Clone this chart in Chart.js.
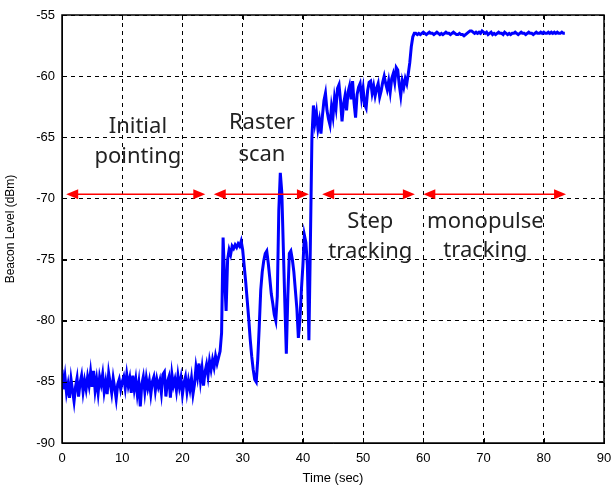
<!DOCTYPE html>
<html>
<head>
<meta charset="utf-8">
<title>Beacon level vs time</title>
<script src="https://cdn.jsdelivr.net/npm/chart.js@4.4.1/dist/chart.umd.min.js"></script>
<style>
  html, body { margin: 0; padding: 0; background: #fff; }
  #wrap { width: 612px; height: 490px; }
</style>
</head>
<body>
<div id="wrap"><canvas id="beaconChart"></canvas></div>
<script>
// beacon level samples (dBm), one every 0.25 s
const sampleStep = 0.25;

// 0 - 25.75 s
const initialPointing = [
    -84.0, -85.6, -84.6, -85.9,
    -85.2, -86.3, -84.8, -85.7,
    -86.6, -85.4, -84.7, -86.2,
    -85.1, -84.5, -85.8, -84.9,
    -85.6, -84.6, -85.3, -84.2,
    -85.4, -84.1, -85.7, -84.8,
    -85.9, -84.6, -85.2, -84.4,
    -85.8, -85.0, -86.0, -84.3,
    -85.1, -85.9, -84.7, -85.5,
    -86.4, -85.2, -84.8, -85.6,
    -85.0, -84.6, -85.5, -84.4,
    -85.3, -84.7, -85.9, -84.5,
    -85.6, -84.8, -86.0, -85.1,
    -87.0, -85.2, -84.6, -85.8,
    -84.7, -85.5, -84.9, -86.0,
    -85.0, -84.6, -85.7, -84.8,
    -85.4, -84.9, -85.9, -84.4,
    -84.2, -86.2, -85.0, -84.6,
    -86.3, -84.4, -85.3, -84.8,
    -85.7, -84.5, -85.4, -84.7,
    -86.0, -85.1, -84.6, -85.8,
    -84.9, -85.6, -84.7, -86.0,
    -85.2, -83.8, -84.6, -83.5,
    -84.9, -83.9, -85.3, -84.2,
    -83.6, -84.5, -83.3, -84.0,
    -83.2, -83.8, -82.9, -83.5
];

// 26 - 41.5 s
const rasterScan = [
    -83.0, -82.5, -81.0, -73.2,
    -76.5, -79.2, -75.0, -74.2,
    -74.6, -73.9, -74.1, -73.8,
    -74.0, -73.7, -73.9, -73.5,
    -74.2, -75.5, -76.8, -78.3,
    -79.8, -81.5, -82.9, -84.0,
    -84.8, -85.0, -83.2, -80.5,
    -77.5, -76.0, -75.1, -74.5,
    -74.3, -75.3, -76.5, -77.8,
    -78.6, -79.5, -80.0, -78.0,
    -71.0, -67.9, -69.5, -74.0,
    -78.5, -82.7, -78.0, -74.5,
    -74.3, -75.0, -76.0, -77.5,
    -79.0, -81.4, -80.0, -77.5,
    -75.5, -73.0, -73.6, -75.5,
    -81.6, -73.5, -65.0
];

// 41.75 - 58.5 s
const stepTracking = [
    -62.4,
    -63.8, -63.0, -64.3, -63.6,
    -64.7, -63.2, -62.0, -61.4,
    -62.8, -63.5, -64.0, -62.5,
    -63.3, -61.8, -62.6, -61.0,
    -60.7, -62.0, -63.7, -62.3,
    -61.6, -62.8, -61.3, -60.8,
    -61.9, -60.4, -62.2, -63.4,
    -61.5, -60.9, -60.6, -61.8,
    -61.0, -62.3, -62.6, -61.2,
    -60.5, -60.4, -61.4, -60.8,
    -61.6, -61.0, -60.6, -61.7,
    -61.2, -60.5, -60.0, -60.6,
    -61.1, -60.4, -61.3, -60.2,
    -59.8, -60.5, -59.3, -59.5,
    -60.7, -61.6, -60.4, -60.9,
    -60.2, -60.6, -59.8, -58.9,
    -57.6, -56.8, -56.5
];

// 58.75 - 83.5 s
const monopulseTracking = [
    -56.5,
    -56.6, -56.5, -56.6, -56.5,
    -56.4, -56.5, -56.6, -56.5,
    -56.4, -56.5, -56.5, -56.6,
    -56.5, -56.4, -56.5, -56.6,
    -56.5, -56.6, -56.5, -56.4,
    -56.5, -56.5, -56.6, -56.5,
    -56.4, -56.5, -56.6, -56.6,
    -56.5, -56.6, -56.6, -56.7,
    -56.6, -56.5, -56.4, -56.3,
    -56.3, -56.4, -56.5, -56.4,
    -56.5, -56.4, -56.5, -56.3,
    -56.4, -56.5, -56.4, -56.6,
    -56.5, -56.4, -56.6, -56.5,
    -56.6, -56.5, -56.4, -56.5,
    -56.5, -56.6, -56.4, -56.5,
    -56.6, -56.5, -56.6, -56.5,
    -56.5, -56.4, -56.5, -56.6,
    -56.5, -56.4, -56.5, -56.5,
    -56.6, -56.5, -56.4, -56.5,
    -56.5, -56.6, -56.5, -56.4,
    -56.5, -56.5, -56.4, -56.5,
    -56.4, -56.5, -56.5, -56.4,
    -56.5, -56.4, -56.5, -56.4,
    -56.5, -56.4, -56.5, -56.5,
    -56.4, -56.5, -56.5
];

const xTicks = [0, 10, 20, 30, 40, 50, 60, 70, 80, 90];
const yTicks = [-90, -85, -80, -75, -70, -65, -60, -55];

// phase annotations (time spans in sec, level in dBm)
const phaseSpans = [[0.7, 23.8], [25.2, 41.0], [43.2, 58.6], [60.0, 83.7]];
const phaseArrowLevel = -69.65;
const phaseNames = [
    ['Initial', 'pointing'],
    ['Raster', 'scan'],
    ['Step', 'tracking'],
    ['monopulse', 'tracking']
];
const phaseTextAt = [
    { x: 12.6, y: [-64.1, -66.6] },
    { x: 33.2, y: [-63.8, -66.4] },
    { x: 51.2, y: [-71.9, -74.4] },
    { x: 70.3, y: [-71.9, -74.3] }
];

const allLevels = initialPointing.concat(rasterScan, stepTracking, monopulseTracking);
const points = allLevels.map((v, i) => ({ x: i * sampleStep, y: v }));

// solid box + inward ticks like matlab
const framePlugin = {
    id: 'frame',
    afterDatasetsDraw(chart) {
        const ctx = chart.ctx;
        const a = chart.chartArea;
        const sx = chart.scales.x, sy = chart.scales.y;
        ctx.save();
        ctx.strokeStyle = '#000';
        ctx.lineWidth = 1;
        ctx.beginPath();
        xTicks.forEach(t => {
            const px = Math.round(sx.getPixelForValue(t)) + 0.5;
            ctx.moveTo(px, a.bottom); ctx.lineTo(px, a.bottom - 5);
            ctx.moveTo(px, a.top); ctx.lineTo(px, a.top + 5);
        });
        yTicks.forEach(t => {
            const py = Math.round(sy.getPixelForValue(t)) + 0.5;
            ctx.moveTo(a.left, py); ctx.lineTo(a.left + 5, py);
            ctx.moveTo(a.right, py); ctx.lineTo(a.right - 5, py);
        });
        ctx.stroke();
        ctx.lineWidth = 1.5;
        ctx.strokeRect(a.left, a.top, a.right - a.left, a.bottom - a.top);
        ctx.restore();
    }
};

function drawArrowHead(ctx, tipX, y, dir) {
    ctx.beginPath();
    ctx.moveTo(tipX, y);
    ctx.lineTo(tipX - dir * 12, y - 5);
    ctx.lineTo(tipX - dir * 12, y + 5);
    ctx.closePath();
    ctx.fill();
}

const phasePlugin = {
    id: 'phases',
    afterDatasetsDraw(chart) {
        const ctx = chart.ctx;
        const sx = chart.scales.x, sy = chart.scales.y;
        ctx.save();
        ctx.strokeStyle = '#ff0000';
        ctx.fillStyle = '#ff0000';
        ctx.lineWidth = 1.5;
        const ay = sy.getPixelForValue(phaseArrowLevel);
        phaseSpans.forEach(span => {
            const x1 = sx.getPixelForValue(span[0]);
            const x2 = sx.getPixelForValue(span[1]);
            ctx.beginPath();
            ctx.moveTo(x1 + 6, ay);
            ctx.lineTo(x2 - 6, ay);
            ctx.stroke();
            drawArrowHead(ctx, x1, ay, -1);
            drawArrowHead(ctx, x2, ay, 1);
        });

        ctx.fillStyle = '#222';
        ctx.font = '22px "Noto Sans", sans-serif';
        ctx.textAlign = 'center';
        ctx.textBaseline = 'middle';
        phaseNames.forEach((lines, i) => {
            const pos = phaseTextAt[i];
            lines.forEach((txt, j) => {
                ctx.fillText(txt, sx.getPixelForValue(pos.x), sy.getPixelForValue(pos.y[j]));
            });
        });
        ctx.restore();
    }
};

const ctx = document.getElementById('beaconChart');
new Chart(ctx, {
    type: 'line',
    data: {
        datasets: [{
            label: 'Beacon level',
            data: points,
            borderColor: '#0000ff',
            borderWidth: 3,
            pointRadius: 0,
            tension: 0,
            fill: false
        }]
    },
    options: {
        responsive: true,
        maintainAspectRatio: false,
        animation: false,
        layout: { padding: { top: 15, right: 0, bottom: 4, left: 3 } },
        plugins: {
            legend: { display: false },
            tooltip: { enabled: false }
        },
        scales: {
            x: {
                type: 'linear',
                min: 0,
                max: 90,
                afterBuildTicks: scale => { scale.ticks = xTicks.map(v => ({ value: v })); },
                afterFit: scale => {
                    scale.height = 43;
                    scale.paddingRight = 8;
                    scale.paddingLeft = 0;
                },
                ticks: {
                    color: '#000',
                    padding: 8,
                    maxRotation: 0,
                    font: { family: '"Liberation Sans", Arial, sans-serif', size: 13 }
                },
                grid: { color: '#000', lineWidth: 1, drawTicks: false },
                border: { display: true, color: '#000', dash: [4, 4] },
                title: {
                    display: true,
                    text: 'Time (sec)',
                    color: '#000',
                    padding: 0,
                    font: { family: '"Liberation Sans", Arial, sans-serif', size: 13 }
                }
            },
            y: {
                type: 'linear',
                min: -90,
                max: -55,
                afterBuildTicks: scale => { scale.ticks = yTicks.map(v => ({ value: v })); },
                afterFit: scale => { scale.width = 59; },
                ticks: {
                    color: '#000',
                    padding: 7,
                    font: { family: '"Liberation Sans", Arial, sans-serif', size: 13 }
                },
                grid: { color: '#000', lineWidth: 1, drawTicks: false },
                border: { display: true, color: '#000', dash: [4, 4] },
                title: {
                    display: true,
                    text: 'Beacon Level (dBm)',
                    color: '#000',
                    padding: 0,
                    font: { family: '"Liberation Sans", Arial, sans-serif', size: 12 }
                }
            }
        }
    },
    plugins: [framePlugin, phasePlugin]
});
</script>
</body>
</html>
